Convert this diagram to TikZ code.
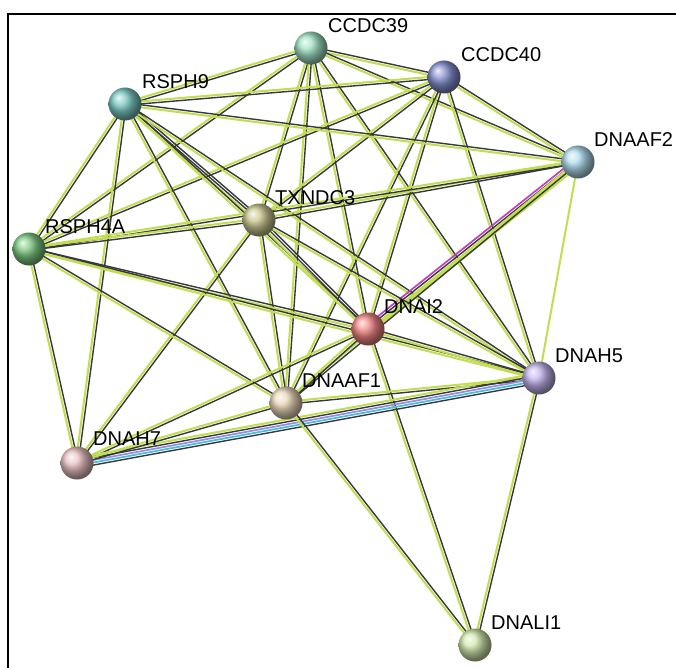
\documentclass[tikz,border=0pt]{standalone}
\usepackage{fontspec}
\setmainfont{Liberation Sans}
\usetikzlibrary{calc}

\pgfdeclarelayer{edges}
\pgfsetlayers{edges,main}

\definecolor{tmgreen}{RGB}{192,222,80}
\definecolor{coexp}{RGB}{55,55,62}
\definecolor{expmag}{RGB}{196,60,196}
\definecolor{dbcyan}{RGB}{70,190,215}
\definecolor{homlav}{RGB}{150,140,230}

\definecolor{cMint}{RGB}{125,215,175}
\definecolor{cNavy}{RGB}{85,100,190}
\definecolor{cTeal}{RGB}{70,180,170}
\definecolor{cSky}{RGB}{145,205,232}
\definecolor{cOlive}{RGB}{180,178,100}
\definecolor{cGreen}{RGB}{75,180,80}
\definecolor{cRed}{RGB}{238,85,85}
\definecolor{cLilac}{RGB}{170,150,230}
\definecolor{cTan}{RGB}{228,200,158}
\definecolor{cPink}{RGB}{228,170,170}
\definecolor{cLime}{RGB}{190,225,140}

\tikzset{
    protein/.style={circle, draw=none, minimum size=33pt, inner sep=0pt, shading=ball, ball color=#1!72!white},
    plabel/.style={anchor=west, inner sep=0pt, font=\fontsize{20}{24}\selectfont},
    ev tmgreen/.style={draw=tmgreen, line width=2pt},
    ev coexp/.style={draw=coexp, line width=1.4pt},
    ev expmag/.style={draw=expmag, line width=1.7pt},
    ev dbcyan/.style={draw=dbcyan, line width=1.7pt},
    ev homlav/.style={draw=homlav, line width=1.7pt}
}

% parallel lines of one interaction, one per evidence colour
\newcommand{\bundle}[3]{%
    \foreach \col [count=\n] in {#3} {\xdef\nlines{\n}}%
    \foreach \col [count=\k] in {#3} {%
        \pgfmathsetmacro{\off}{(\k-(\nlines+1)/2)*2.5}%
        \draw[ev \col] ($(#1.center)!\off pt!90:(#2.center)$) -- ($(#2.center)!\off pt!-90:(#1.center)$);
    }%
}

\begin{document}
\begin{tikzpicture}[x=1pt, y=-1pt]
    \useasboundingbox (0,0) rectangle (676,668);

    % frame of the screenshot
    \draw[line width=2pt, black] (8,668) -- (8,14) -- (676,14);

    % Proteins
    \node[protein=cMint] (ccdc39) at (311,48) {};
    \node[protein=cNavy] (ccdc40) at (444,77) {};
    \node[protein=cTeal] (rsph9) at (125,104) {};
    \node[protein=cSky] (dnaaf2) at (578,162) {};
    \node[protein=cOlive] (txndc3) at (259,220) {};
    \node[protein=cGreen] (rsph4a) at (29,249) {};
    \node[protein=cRed] (dnai2) at (368,329) {};
    \node[protein=cLilac] (dnah5) at (539,378) {};
    \node[protein=cTan] (dnaaf1) at (286,403) {};
    \node[protein=cPink] (dnah7) at (77,463) {};
    \node[protein=cLime] (dnali1) at (475,645) {};

    % Labels, up and to the right of each ball
    \node[plabel] (ccdc39-l) at ([shift={(17,-22)}]ccdc39.center) {CCDC39};
    \node[plabel] (ccdc40-l) at ([shift={(17,-22)}]ccdc40.center) {CCDC40};
    \node[plabel] (rsph9-l) at ([shift={(17,-22)}]rsph9.center) {RSPH9};
    \node[plabel] (dnaaf2-l) at ([shift={(16,-22)}]dnaaf2.center) {DNAAF2};
    \node[plabel] (txndc3-l) at ([shift={(16,-22)}]txndc3.center) {TXNDC3};
    \node[plabel] (rsph4a-l) at ([shift={(16,-22)}]rsph4a.center) {RSPH4A};
    \node[plabel] (dnai2-l) at ([shift={(16,-22)}]dnai2.center) {DNAI2};
    \node[plabel] (dnah5-l) at ([shift={(16,-22)}]dnah5.center) {DNAH5};
    \node[plabel] (dnaaf1-l) at ([shift={(16,-22)}]dnaaf1.center) {DNAAF1};
    \node[plabel] (dnah7-l) at ([shift={(16,-24)}]dnah7.center) {DNAH7};
    \node[plabel] (dnali1-l) at ([shift={(16,-22)}]dnali1.center) {DNALI1};

    % Interactions
    \begin{pgfonlayer}{edges}
        \bundle{ccdc39}{ccdc40}{tmgreen,coexp}
        \bundle{ccdc39}{rsph9}{tmgreen,coexp}
        \bundle{ccdc39}{dnaaf2}{tmgreen,coexp}
        \bundle{ccdc39}{txndc3}{tmgreen,coexp}
        \bundle{ccdc39}{rsph4a}{tmgreen,coexp}
        \bundle{ccdc39}{dnai2}{tmgreen,coexp}
        \bundle{ccdc39}{dnah5}{tmgreen,coexp}
        \bundle{ccdc39}{dnaaf1}{tmgreen,coexp}

        \bundle{ccdc40}{rsph9}{tmgreen,coexp}
        \bundle{ccdc40}{dnaaf2}{tmgreen,coexp}
        \bundle{ccdc40}{txndc3}{tmgreen,coexp}
        \bundle{ccdc40}{rsph4a}{tmgreen,coexp}
        \bundle{ccdc40}{dnai2}{tmgreen,coexp}
        \bundle{ccdc40}{dnah5}{tmgreen,coexp}
        \bundle{ccdc40}{dnaaf1}{tmgreen,coexp}

        \bundle{rsph9}{dnaaf2}{tmgreen,coexp}
        \bundle{rsph9}{txndc3}{tmgreen,coexp,coexp}
        \bundle{rsph9}{rsph4a}{tmgreen,coexp}
        \bundle{rsph9}{dnai2}{tmgreen,coexp}
        \bundle{rsph9}{dnah5}{tmgreen,coexp}
        \bundle{rsph9}{dnaaf1}{tmgreen,coexp}
        \bundle{rsph9}{dnah7}{tmgreen,coexp}

        \bundle{dnaaf2}{txndc3}{tmgreen,coexp}
        \bundle{dnaaf2}{rsph4a}{tmgreen,coexp}
        \bundle{dnaaf2}{dnai2}{expmag,coexp,tmgreen,tmgreen}
        \bundle{dnaaf2}{dnah5}{tmgreen}
        \bundle{dnaaf2}{dnaaf1}{tmgreen,coexp}

        \bundle{txndc3}{rsph4a}{tmgreen,coexp}
        \bundle{txndc3}{dnai2}{tmgreen,coexp,coexp}
        \bundle{txndc3}{dnah5}{tmgreen,coexp}
        \bundle{txndc3}{dnaaf1}{tmgreen,coexp}
        \bundle{txndc3}{dnah7}{tmgreen,coexp}

        \bundle{rsph4a}{dnai2}{tmgreen,coexp}
        \bundle{rsph4a}{dnah5}{tmgreen,coexp}
        \bundle{rsph4a}{dnaaf1}{tmgreen,coexp}
        \bundle{rsph4a}{dnah7}{tmgreen,coexp}

        \bundle{dnai2}{dnah5}{tmgreen,coexp}
        \bundle{dnai2}{dnaaf1}{tmgreen,coexp}
        \bundle{dnai2}{dnah7}{tmgreen,coexp}
        \bundle{dnai2}{dnali1}{tmgreen,coexp}

        \bundle{dnah5}{dnaaf1}{tmgreen,coexp}
        \bundle{dnah5}{dnah7}{tmgreen,coexp,homlav,dbcyan,coexp}
        \bundle{dnah5}{dnali1}{tmgreen,coexp}

        \bundle{dnaaf1}{dnah7}{tmgreen,coexp}
        \bundle{dnaaf1}{dnali1}{tmgreen,coexp}
    \end{pgfonlayer}
\end{tikzpicture}
\end{document}
